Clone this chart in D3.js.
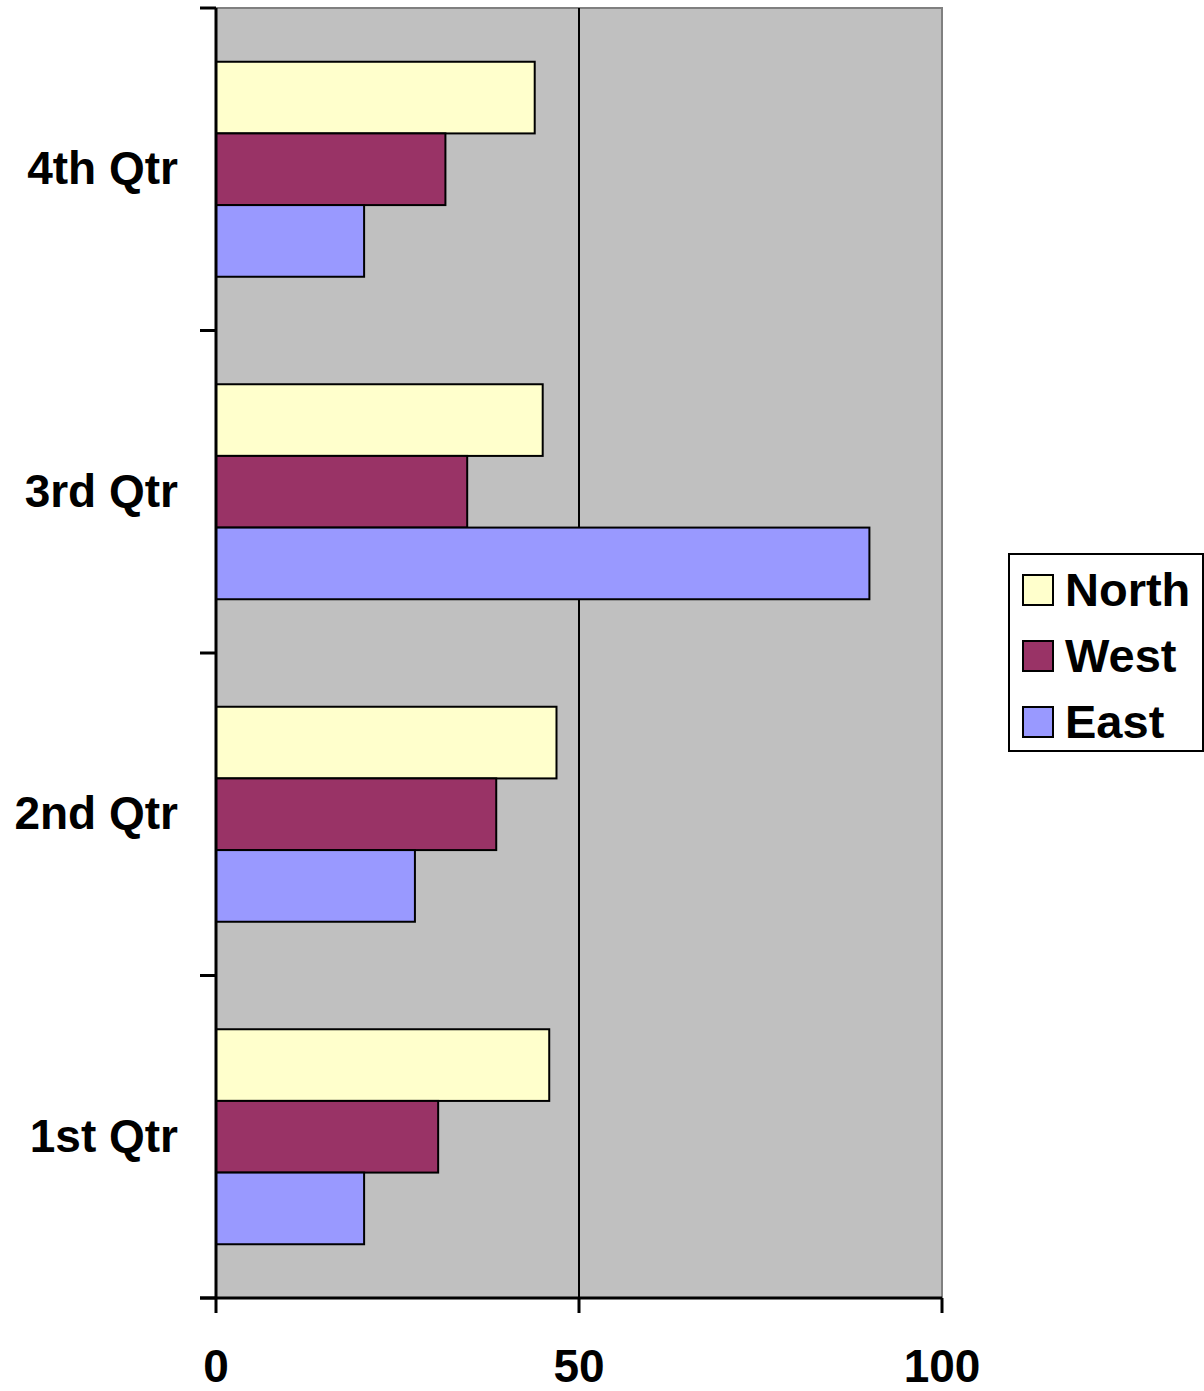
<!DOCTYPE html>
<html>
<head>
<meta charset="utf-8">
<script src="https://cdn.jsdelivr.net/npm/d3@7"></script>
<style>
  body { margin: 0; background: #fff; }
  text { font-family: "Liberation Sans", Arial, sans-serif; font-weight: bold; fill: #000; }
</style>
</head>
<body>
<div id="chart"></div>
<script>
var svgWidth = 1204;
var svgHeight = 1391;

// data
var categories = ["1st Qtr", "2nd Qtr", "3rd Qtr", "4th Qtr"];
var seriesNames = ["North", "West", "East"];
var north = [45.9, 46.9, 45, 43.9];
var west = [30.6, 38.6, 34.6, 31.6];
var east = [20.4, 27.4, 90, 20.4];
var xTicks = [0, 50, 100];
var colors = ["#FFFFCC", "#993366", "#9999FF"];

var seriesValues = [north, west, east];

var plot = { left: 216, right: 942, top: 8, bottom: 1298 };

var svg = d3.select("#chart")
  .append("svg")
  .attr("width", svgWidth)
  .attr("height", svgHeight);

var xScale = d3.scaleLinear()
  .domain([0, 100])
  .range([plot.left, plot.right]);

// top band = last category
var yScale = d3.scaleBand()
  .domain(categories.slice().reverse())
  .range([plot.top, plot.bottom])
  .padding(0);

var innerScale = d3.scaleBand()
  .domain(seriesNames)
  .range([0, yScale.bandwidth()])
  .paddingInner(0)
  .paddingOuter(0.75);

// plot background
svg.append("rect")
  .attr("x", plot.left)
  .attr("y", plot.top)
  .attr("width", plot.right - plot.left)
  .attr("height", plot.bottom - plot.top)
  .attr("fill", "#C0C0C0")
  .attr("stroke", "#808080")
  .attr("stroke-width", 2);

// gridlines
svg.selectAll(".grid")
  .data(xTicks.filter(d => d > 0 && d < 100))
  .enter()
  .append("line")
  .attr("x1", d => xScale(d))
  .attr("x2", d => xScale(d))
  .attr("y1", plot.top)
  .attr("y2", plot.bottom)
  .attr("stroke", "#000")
  .attr("stroke-width", 2);

// bars
var rows = [];
categories.forEach(function(cat, i) {
  seriesNames.forEach(function(s, j) {
    rows.push({ cat: cat, series: s, value: seriesValues[j][i], color: colors[j] });
  });
});

svg.selectAll(".bar")
  .data(rows)
  .enter()
  .append("rect")
  .attr("x", xScale(0))
  .attr("y", d => yScale(d.cat) + innerScale(d.series))
  .attr("width", d => xScale(d.value) - xScale(0))
  .attr("height", innerScale.bandwidth())
  .attr("fill", d => d.color)
  .attr("stroke", "#000")
  .attr("stroke-width", 2);

// left axis
var leftAxis = svg.append("g");
leftAxis.append("line")
  .attr("x1", plot.left).attr("x2", plot.left)
  .attr("y1", plot.top).attr("y2", plot.bottom)
  .attr("stroke", "#000").attr("stroke-width", 3);

var boundaries = categories.map(c => yScale(c)).concat([plot.bottom]);
leftAxis.selectAll(".ytick")
  .data(boundaries)
  .enter()
  .append("line")
  .attr("x1", plot.left - 16).attr("x2", plot.left)
  .attr("y1", d => d).attr("y2", d => d)
  .attr("stroke", "#000").attr("stroke-width", 3);

leftAxis.selectAll(".ylabel")
  .data(categories)
  .enter()
  .append("text")
  .attr("x", 178)
  .attr("y", d => yScale(d) + yScale.bandwidth() / 2 + 15)
  .attr("text-anchor", "end")
  .style("font-size", "46px")
  .text(d => d);

// bottom axis
var bottomAxis = svg.append("g");
bottomAxis.append("line")
  .attr("x1", plot.left - 16).attr("x2", plot.right)
  .attr("y1", plot.bottom).attr("y2", plot.bottom)
  .attr("stroke", "#000").attr("stroke-width", 3);

bottomAxis.selectAll(".xtick")
  .data(xTicks)
  .enter()
  .append("line")
  .attr("x1", d => xScale(d)).attr("x2", d => xScale(d))
  .attr("y1", plot.bottom).attr("y2", plot.bottom + 15)
  .attr("stroke", "#000").attr("stroke-width", 3);

bottomAxis.selectAll(".xlabel")
  .data(xTicks)
  .enter()
  .append("text")
  .attr("x", d => xScale(d))
  .attr("y", 1382)
  .attr("text-anchor", "middle")
  .style("font-size", "46px")
  .text(d => d);

// legend
var legend = svg.append("g");
legend.append("rect")
  .attr("x", 1009).attr("y", 554)
  .attr("width", 194).attr("height", 197)
  .attr("fill", "#fff")
  .attr("stroke", "#000").attr("stroke-width", 2);

var legendItems = legend.selectAll(".item")
  .data(seriesNames)
  .enter()
  .append("g")
  .attr("transform", (d, i) => `translate(1023, ${575 + i * 66})`);

legendItems.append("rect")
  .attr("width", 30).attr("height", 30)
  .attr("fill", (d, i) => colors[i])
  .attr("stroke", "#000").attr("stroke-width", 2);

legendItems.append("text")
  .attr("x", 42)
  .attr("y", 31)
  .style("font-size", "47px")
  .text(d => d);
</script>
</body>
</html>
